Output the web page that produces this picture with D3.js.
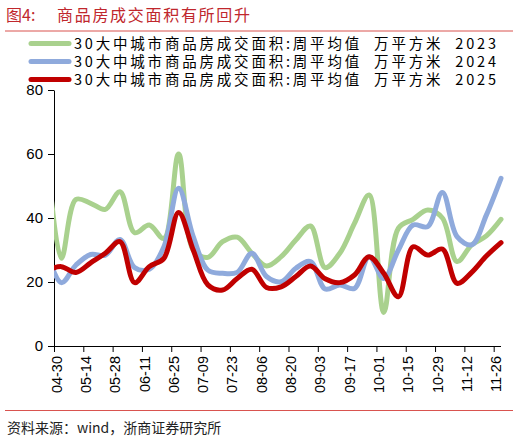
<!DOCTYPE html>
<html>
<head>
<meta charset="utf-8">
<script src="https://cdn.jsdelivr.net/npm/d3@7"></script>
<style>
  body { margin: 0; background: #fff; }
  text { font-family: "Noto Sans CJK SC", "Liberation Sans", sans-serif; }
</style>
</head>
<body>
<script>
// tick labels on the x axis (every 2 weeks)
var tickLabels = ["04-30", "05-14", "05-28", "06-11", "06-25", "07-09", "07-23", "08-06",
                  "08-20", "09-03", "09-17", "10-01", "10-15", "10-29", "11-12", "11-26"];

// weekly values, first one lies just before 04-30 and is clipped
var values2023 = [62, 27.4, 45.8, 44.6, 42.7, 48.2, 35.4, 37.8, 33.6, 60, 30, 27.7, 32.6, 34, 29, 25,
                  27.9, 33.1, 37.5, 24.5, 29, 38.3, 47.2, 10.5, 36.8, 39.6, 42.5, 40, 26.4, 31.6, 34.4, 39.6];
var values2024 = [29.5, 19.8, 25.3, 28.6, 28.4, 33.3, 24.5, 24, 31, 49.3, 34.2, 23.7, 22.7, 23, 29, 21.7,
                  20.1, 24.3, 26.4, 17.8, 19.1, 18, 27.9, 21.1, 30, 37.8, 37.3, 48, 34.2, 31.6, 40.9, 52.4];
var values2025 = [23.6, 24.8, 23, 26, 29, 32.6, 19.8, 24.8, 27.4, 41.7, 30, 19.1, 17.5, 21.1, 24, 18.3,
                  18.5, 21.7, 25, 21, 19.8, 22.2, 27.9, 22.7, 15.4, 31, 28.4, 30.3, 19.6, 23, 28.1, 32.3];

var seriesNames = ["30大中城市商品房成交面积:周平均值  万平方米  2023",
                   "30大中城市商品房成交面积:周平均值  万平方米  2024",
                   "30大中城市商品房成交面积:周平均值  万平方米  2025"];
var colors = ["#a9d18e", "#8faadc", "#c00000"];
var yTicks = [0, 20, 40, 60, 80];

// plot area
var w = 520;
var h = 441;
var plotLeft = 54;
var plotRight = 501;
var plotTop = 90;
var plotBottom = 346;

var svg = d3.select("body").append("svg")
            .attr("width", w)
            .attr("height", h);

svg.append("rect").attr("width", w).attr("height", h).attr("fill", "#fff");

// title and rules
svg.append("text")
   .attr("x", 6).attr("y", 21)
   .attr("fill", "#c0272d")
   .style("font-size", "16px")
   .text("图4:");
svg.append("text")
   .attr("x", 57).attr("y", 21)
   .attr("fill", "#c0272d")
   .style("font-size", "16px")
   .attr("textLength", 193)
   .attr("lengthAdjust", "spacing")
   .text("商品房成交面积有所回升");

svg.append("line")
   .attr("x1", 5).attr("x2", 513).attr("y1", 31).attr("y2", 31)
   .attr("stroke", "#d9534f").attr("stroke-width", 1);
svg.append("line")
   .attr("x1", 5).attr("x2", 513).attr("y1", 410.5).attr("y2", 410.5)
   .attr("stroke", "#d9534f").attr("stroke-width", 1);

svg.append("text")
   .attr("x", 7).attr("y", 433)
   .attr("fill", "#222")
   .style("font-size", "14px")
   .text("资料来源：wind，浙商证券研究所");

// legend
seriesNames.forEach(function(name, i) {
  var cy = 43.5 + i * 18;
  svg.append("line")
     .attr("x1", 31).attr("x2", 69).attr("y1", cy).attr("y2", cy)
     .attr("stroke", colors[i]).attr("stroke-width", 5)
     .attr("stroke-linecap", "round");
  svg.append("text")
     .attr("x", 74).attr("y", cy + 5.5)
     .attr("fill", "#000")
     .style("font-size", "14.5px")
     .attr("textLength", 422)
     .attr("lengthAdjust", "spacing")
     .style("white-space", "pre")
     .text(name);
});

// scales
var xScale = d3.scaleLinear()
               .domain([0, 30.5])
               .range([plotLeft, plotRight]);

var yScale = d3.scaleLinear()
               .domain([0, 80])
               .range([plotBottom, plotTop]);

// week positions of the data points (mid-week)
var weeks = values2023.map(function(d, i) { return i - 0.5; });

// axes
var xAxis = d3.axisBottom(xScale)
              .tickValues(tickLabels.map(function(d, i) { return i * 2; }))
              .tickFormat(function(d, i) { return tickLabels[i]; })
              .tickSize(6)
              .tickSizeOuter(0);

var yAxis = d3.axisLeft(yScale)
              .tickValues(yTicks)
              .tickSize(6)
              .tickSizeOuter(0);

var gx = svg.append("g")
            .attr("transform", "translate(0," + plotBottom + ")")
            .call(xAxis);
gx.select(".domain").attr("d", "M" + (plotLeft - 6) + ",0.5H" + plotRight).attr("stroke", "#000");
gx.selectAll(".tick line").attr("stroke", "#000");
gx.selectAll(".tick text")
  .attr("transform", "rotate(-90)")
  .attr("text-anchor", "end")
  .attr("x", -10)
  .attr("y", 2)
  .attr("dy", "0.35em")
  .attr("fill", "#000")
  .style("font-family", "Liberation Sans, sans-serif")
  .style("font-size", "14.5px");

var gy = svg.append("g")
            .attr("transform", "translate(" + plotLeft + ",0)")
            .call(yAxis);
gy.select(".domain").attr("stroke", "#000");
gy.selectAll(".tick line").attr("stroke", "#000");
gy.selectAll(".tick text")
  .attr("x", -11)
  .attr("fill", "#000")
  .style("font-family", "Liberation Sans, sans-serif")
  .style("font-size", "15px");

// clip to plot area
svg.append("clipPath").attr("id", "plot")
   .append("rect")
   .attr("x", plotLeft).attr("y", plotTop - 10)
   .attr("width", plotRight - plotLeft + 4).attr("height", plotBottom - plotTop + 10);

var line = d3.line()
             .x(function(d) { return xScale(d[0]); })
             .y(function(d) { return yScale(d[1]); })
             .curve(d3.curveCatmullRom);

[values2023, values2024, values2025].forEach(function(vals, i) {
  svg.append("path")
     .datum(vals.map(function(v, j) { return [weeks[j], v]; }))
     .attr("clip-path", "url(#plot)")
     .attr("d", line)
     .attr("fill", "none")
     .attr("stroke", colors[i])
     .attr("stroke-width", 5)
     .attr("stroke-linejoin", "round")
     .attr("stroke-linecap", "round");
});
</script>
</body>
</html>
